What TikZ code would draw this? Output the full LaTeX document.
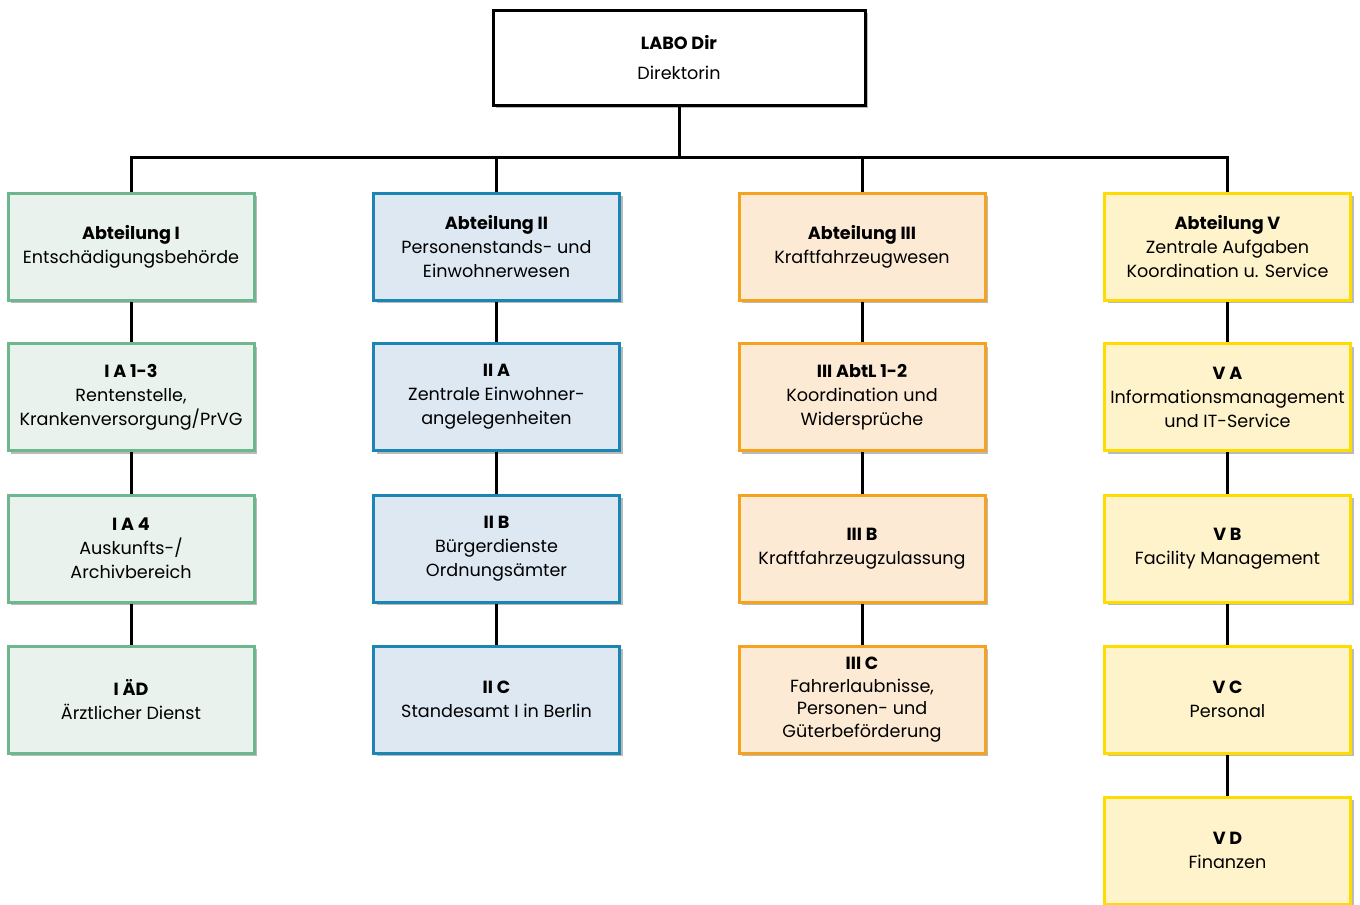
\documentclass[tikz,border=0pt]{standalone}
\usepackage{fontspec}
\setmainfont{Poppins}
\usetikzlibrary{shadows}
\definecolor{gB}{HTML}{6DB68E}\definecolor{gF}{HTML}{E9F2ED}
\definecolor{bB}{HTML}{1B86B4}\definecolor{bF}{HTML}{DDE8F3}
\definecolor{oB}{HTML}{F5A21E}\definecolor{oF}{HTML}{FDEAD4}
\definecolor{yB}{HTML}{FFDC00}\definecolor{yF}{HTML}{FFF3CB}
\tikzset{
  unit box/.style={draw, line width=2.25pt, minimum width=184.5pt, minimum height=80.25pt,
    align=center, inner sep=1pt, font=\fontsize{13.2}{18}\selectfont,
    drop shadow={opacity=0.45, fill=black!60, shadow xshift=2.5pt, shadow yshift=-2.5pt}},
  green/.style={unit box, draw=gB, fill=gF},
  blue/.style={unit box, draw=bB, fill=bF},
  orange/.style={unit box, draw=oB, fill=oF},
  yellow/.style={unit box, draw=yB, fill=yF},
  topbox/.style={unit box, draw=black, fill=white, minimum width=279pt, minimum height=71.25pt},
  conn/.style={line width=2.25pt, black}
}
\begin{document}
\begin{tikzpicture}[x=0.75pt,y=-0.75pt]
\useasboundingbox (0,0) rectangle (1360,904);
\def\cA{131}\def\cB{496.5}\def\cC{862}\def\cD{1227.5}
\coordinate (bus) at (679,157);
\node[topbox] (top) at (679,57.5) {\textbf{LABO Dir}\\[5pt]Direktorin};

\node[green] (a1) at (\cA,246.5) {\textbf{Abteilung I}\\Entschädigungsbehörde};
\node[green] (a2) at (\cA,397) {\textbf{I A 1-3}\\Rentenstelle,\\Krankenversorgung/PrVG};
\node[green] (a3) at (\cA,548.5) {\textbf{I A 4}\\Auskunfts-/\\Archivbereich};
\node[green] (a4) at (\cA,699.5) {\textbf{I ÄD}\\Ärztlicher Dienst};

\node[blue] (b1) at (\cB,246.5) {\textbf{Abteilung II}\\Personenstands- und\\Einwohnerwesen};
\node[blue] (b2) at (\cB,397) {\textbf{II A}\\Zentrale Einwohner-\\angelegenheiten};
\node[blue] (b3) at (\cB,548.5) {\textbf{II B}\\Bürgerdienste\\Ordnungsämter};
\node[blue] (b4) at (\cB,699.5) {\textbf{II C}\\Standesamt I in Berlin};

\node[orange] (c1) at (\cC,246.5) {\textbf{Abteilung III}\\Kraftfahrzeugwesen};
\node[orange] (c2) at (\cC,397) {\textbf{III AbtL 1-2}\\Koordination und\\Widersprüche};
\node[orange] (c3) at (\cC,548.5) {\textbf{III B}\\Kraftfahrzeugzulassung};
\node[orange, font=\fontsize{13.2}{17}\selectfont] (c4) at (\cC,699.5) {\textbf{III C}\\Fahrerlaubnisse,\\Personen- und\\Güterbeförderung};

\node[yellow] (d1) at (\cD,246.5) {\textbf{Abteilung V}\\Zentrale Aufgaben\\Koordination u. Service};
\node[yellow] (d2) at (\cD,397) {\textbf{V A}\\Informationsmanagement\\und IT-Service};
\node[yellow] (d3) at (\cD,548.5) {\textbf{V B}\\Facility Management};
\node[yellow] (d4) at (\cD,699.5) {\textbf{V C}\\Personal};
\node[yellow] (d5) at (\cD,850.5) {\textbf{V D}\\Finanzen};

\draw[conn] (top.south) -- (bus);
\draw[conn] (a1.north) |- (bus) -| (d1.north);
\draw[conn] (bus -| b1.north) -- (b1.north);
\draw[conn] (bus -| c1.north) -- (c1.north);
\foreach \u/\v in {a1/a2,a2/a3,a3/a4,b1/b2,b2/b3,b3/b4,c1/c2,c2/c3,c3/c4,d1/d2,d2/d3,d3/d4,d4/d5}
  \draw[conn] (\u.south) -- (\v.north);
\end{tikzpicture}
\end{document}
